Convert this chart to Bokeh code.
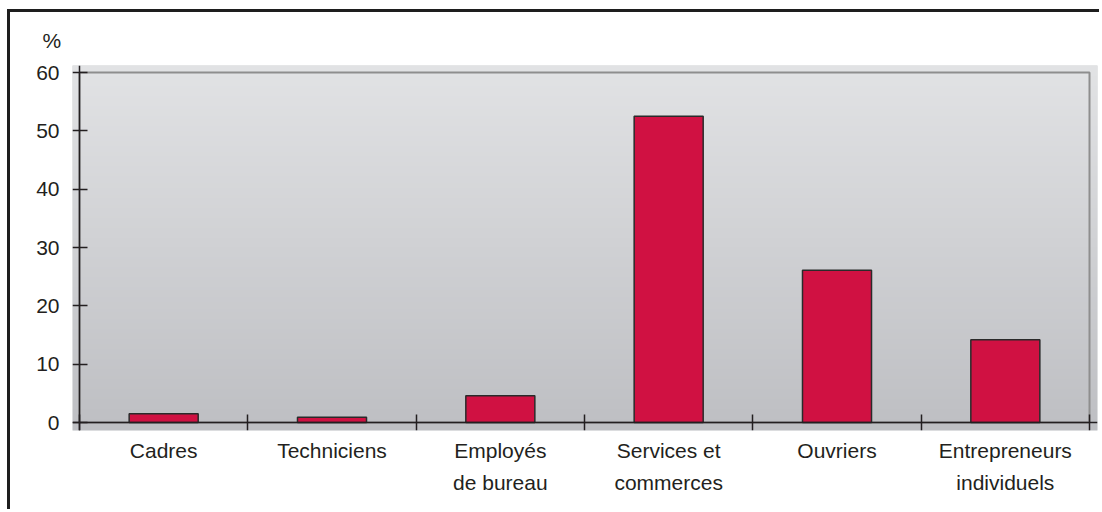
import numpy as np
from bokeh.plotting import figure
from bokeh.models import Range1d, FixedTicker, LinearAxis
from bokeh.embed import file_html
from bokeh.resources import INLINE

# ---- data ----
categories = ["Cadres", "Techniciens", "Employés\nde bureau",
              "Services et\ncommerces", "Ouvriers", "Entrepreneurs\nindividuels"]
values = [1.5, 0.9, 4.6, 52.5, 26.1, 14.2]
y_ticks = [0, 10, 20, 30, 40, 50, 60]
y_unit = "%"

# ---- styling ----
FONT = "Liberation Sans"
FS = "21px"
TXT = "#231f20"
AX = "#231f20"
BAR = "#d01142"

n = len(categories)
ymax = y_ticks[-1]
x_start, x_end = -0.0416, n + 0.0475
y_start, y_end = -1.371, ymax + 1.2

p = figure(width=1092, height=500,
           x_range=Range1d(x_start, x_end), y_range=Range1d(y_start, y_end),
           output_backend="svg", toolbar_location=None,
           x_axis_type=None, y_axis_type=None,
           min_border_left=62, min_border_right=5,
           min_border_top=53, min_border_bottom=82)
p.outline_line_color = None
p.background_fill_color = "#d0d1d4"
p.border_fill_color = "white"
p.styles = {"margin-left": "7px", "margin-top": "9px",
            "border-top": "3px solid #1e1e1e", "border-left": "3px solid #1e1e1e"}

# unit label as title
p.title.text = y_unit
p.title.align = "left"
p.title.offset = -30
p.title.standoff = 28
p.title.text_font = FONT
p.title.text_font_size = FS
p.title.text_font_style = "normal"
p.title.text_color = TXT

# vertical gradient background
H = 256
t = np.linspace(0, 1, H)[:, None]
bot = np.array([190, 191, 195], dtype=float)
top = np.array([226, 227, 229], dtype=float)
rgb = (bot + (top - bot) * t).astype(np.uint8)
img = np.empty((H, 1), dtype=np.uint32)
view = img.view(dtype=np.uint8).reshape((H, 1, 4))
view[:, 0, 0] = rgb[:, 0]
view[:, 0, 1] = rgb[:, 1]
view[:, 0, 2] = rgb[:, 2]
view[:, 0, 3] = 255
p.image_rgba(image=[img], x=x_start, y=y_start, dw=x_end - x_start, dh=y_end - y_start)

# gray plot-area border (top/right visible)
p.quad(left=[0], right=[n], bottom=[0], top=[ymax], fill_alpha=0,
       line_color="#8e8e8e", line_width=2)

# bars
xs = [i + 0.5 for i in range(n)]
p.vbar(x=xs, top=values, bottom=0, width=0.41, fill_color=BAR,
       line_color="#2a2a2a", line_width=1.5)

# ---- label-only axes at the frame edges ----
ylab = LinearAxis(ticker=FixedTicker(ticks=y_ticks))
ylab.axis_line_color = None
ylab.major_tick_line_color = None
ylab.minor_tick_line_color = None
ylab.major_tick_in = 0
ylab.major_tick_out = 0
ylab.major_label_text_font = FONT
ylab.major_label_text_font_size = FS
ylab.major_label_text_color = TXT
ylab.major_label_standoff = 13
p.add_layout(ylab, "left")

caxis = LinearAxis(ticker=FixedTicker(ticks=xs),
                   major_label_overrides={x: c for x, c in zip(xs, categories)})
caxis.axis_line_color = None
caxis.major_tick_line_color = None
caxis.minor_tick_line_color = None
caxis.major_tick_in = 0
caxis.major_tick_out = 0
caxis.major_label_text_font = FONT
caxis.major_label_text_font_size = FS
caxis.major_label_text_color = TXT
caxis.major_label_text_line_height = 1.4
caxis.major_label_standoff = 8
p.add_layout(caxis, "below")

# ---- line/tick axes at data zero ----
yaxis = LinearAxis(ticker=FixedTicker(ticks=y_ticks), fixed_location=0,
                   major_label_overrides={v: "" for v in y_ticks})
yaxis.axis_line_color = AX
yaxis.axis_line_width = 1.5
yaxis.major_tick_line_color = AX
yaxis.major_tick_line_width = 1.5
yaxis.major_tick_in = 8
yaxis.major_tick_out = 7
yaxis.minor_tick_line_color = None
yaxis.major_label_text_font_size = "1px"
yaxis.major_label_standoff = 0
p.add_layout(yaxis, "left")

xaxis = LinearAxis(ticker=FixedTicker(ticks=list(range(n + 1))), fixed_location=0,
                   major_label_overrides={i: "" for i in range(n + 1)})
xaxis.axis_line_color = AX
xaxis.axis_line_width = 1.5
xaxis.major_tick_line_color = AX
xaxis.major_tick_line_width = 1.5
xaxis.major_tick_in = 8
xaxis.major_tick_out = 8
xaxis.minor_tick_line_color = None
xaxis.major_label_text_font_size = "1px"
xaxis.major_label_standoff = 0
p.add_layout(xaxis, "below")

open("out.html", "w").write(file_html(p, INLINE))
